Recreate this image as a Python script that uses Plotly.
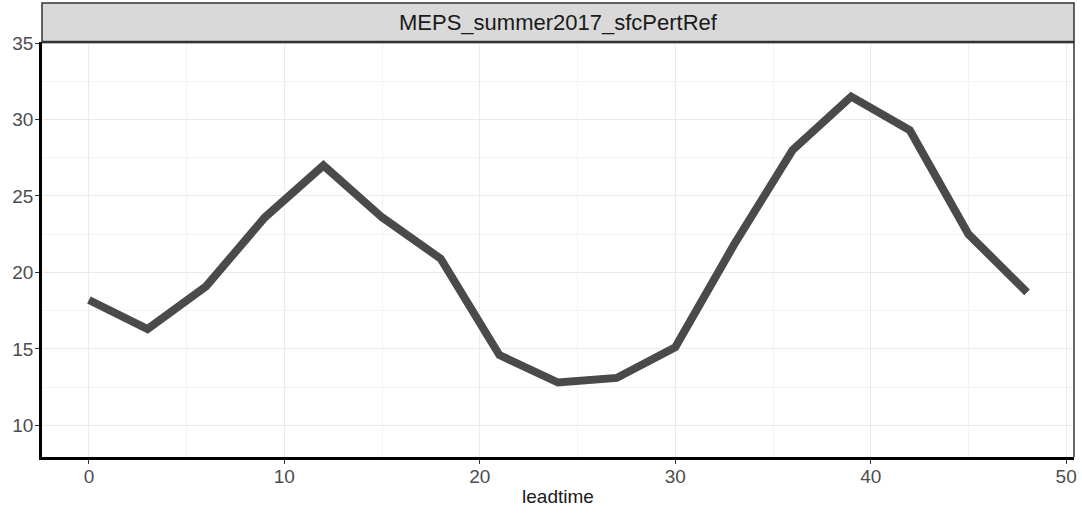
import plotly.graph_objects as go

leadtime = [0, 3, 6, 9, 12, 15, 18, 21, 24, 27, 30, 33, 36, 39, 42, 45, 48]
values = [18.2, 16.3, 19.1, 23.6, 27.0, 23.6, 20.9, 14.6, 12.8, 13.1, 15.1,
          21.8, 28.0, 31.5, 29.3, 22.5, 18.7]
x_ticks = [0, 10, 20, 30, 40, 50]
y_ticks = [10, 15, 20, 25, 30, 35]
panel_title = "MEPS_summer2017_sfcPertRef"
x_title = "leadtime"

FONT = "Liberation Sans, Arial, sans-serif"
W, H = 1082, 514
L, R, T, B = 42, 5, 42, 57
plot_h = H - T - B
strip_h = 39

fig = go.Figure()
fig.add_trace(go.Scatter(
    x=leadtime, y=values, mode="lines",
    line=dict(color="#4a4a4a", width=8),
    showlegend=False, hoverinfo="x+y",
))

axis_common = dict(
    showgrid=True, gridcolor="#ebebeb", gridwidth=1,
    zeroline=False, ticks="outside", ticklen=4, tickwidth=1,
    tickcolor="#333333",
    tickfont=dict(family=FONT, size=19, color="#4d4d4d"),
    showline=True, linecolor="#000000",
)

fig.update_layout(
    width=W, height=H,
    margin=dict(l=L, r=R, t=T, b=B, pad=0),
    paper_bgcolor="white", plot_bgcolor="white",
    font=dict(family=FONT),
    xaxis=dict(
        **axis_common, range=[-2.4, 50.4], tickvals=x_ticks,
        linewidth=3, ticklabelstandoff=-4,
        minor=dict(dtick=5, tick0=0, showgrid=True, gridcolor="#f3f3f3", gridwidth=1, ticks=""),
        title=dict(text=x_title, font=dict(family=FONT, size=19, color="#1a1a1a"), standoff=4),
    ),
    yaxis=dict(
        **axis_common, range=[7.93, 35.07], tickvals=y_ticks,
        linewidth=2.5, ticklabelstandoff=-2,
        minor=dict(dtick=2.5, tick0=0, showgrid=True, gridcolor="#f3f3f3", gridwidth=1, ticks=""),
    ),
    shapes=[
        dict(type="line", xref="paper", yref="paper", x0=1, x1=1, y0=0, y1=1,
             line=dict(color="#333333", width=1.5)),
        dict(type="rect", xref="paper", yref="paper", x0=0, x1=1,
             y0=1, y1=1 + strip_h / plot_h,
             fillcolor="#d9d9d9", line=dict(color="#333333", width=1.5), layer="above"),
        dict(type="line", xref="paper", yref="paper", x0=0, x1=1, y0=1, y1=1,
             line=dict(color="#333333", width=2.5)),
    ],
    annotations=[
        dict(text=panel_title, xref="paper", yref="paper", x=0.5,
             y=1 + strip_h / plot_h / 2, xanchor="center", yanchor="middle",
             showarrow=False, font=dict(family=FONT, size=22, color="#1a1a1a")),
    ],
)

fig.write_html("out.html")
